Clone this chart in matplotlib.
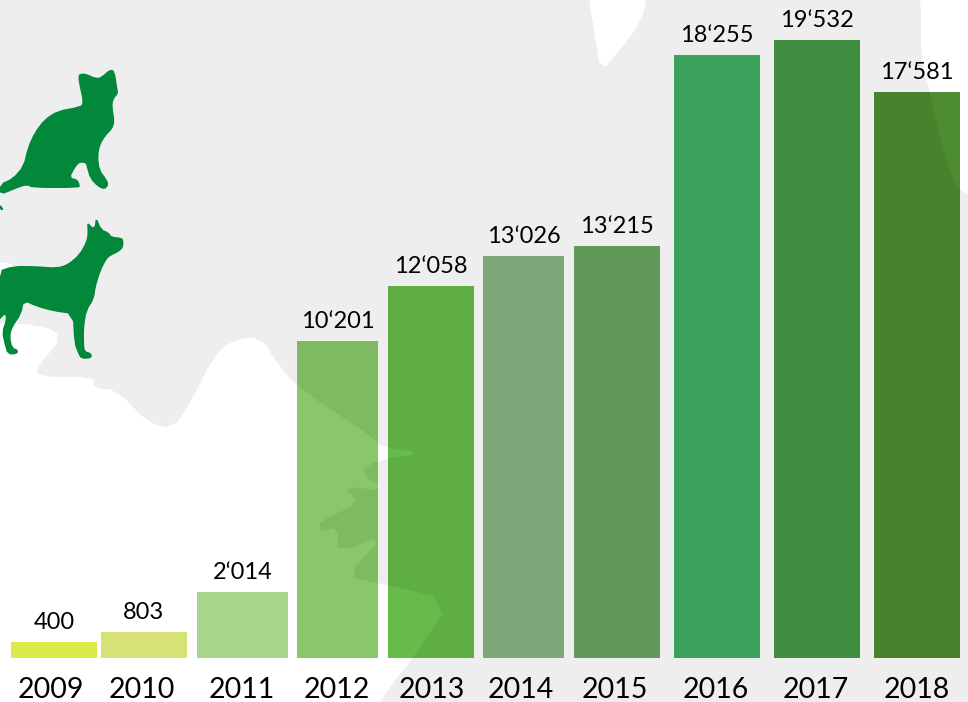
import numpy as np
import matplotlib
matplotlib.use("Agg")
import matplotlib.pyplot as plt
from matplotlib.patches import Polygon

plt.rcParams["font.family"] = ["Lato", "DejaVu Sans"]

years = [2009, 2010, 2011, 2012, 2013, 2014, 2015, 2016, 2017, 2018]
values = [400, 803, 2014, 10201, 12058, 13026, 13215, 18255, 19532, 17581]
bar_colors = ["#dde84a", "#d6e276", "#a6d58b", "#89c76a", "#66bb4a",
              "#89b583", "#67a461", "#40ae62", "#469947", "#4e8c31"]

# the source bars are hand drawn: pixel height of each bar, same order as values
bar_px = [16, 26, 66, 317, 372, 402, 412, 603, 618, 566]
bar_centers = [54, 144, 242.5, 337.5, 431, 523.5, 617, 717, 817, 917]
bar_widths = [86, 86, 91, 81, 86, 81, 86, 86, 86, 86]
year_x = [51, 142, 242, 337, 432, 521, 615, 716, 816, 917]

W, H = 968, 702
BASE = 658

# runs past the canvas edges so rounding leaves the edges alone
map_outline = [(14, -20), (587, -20), (589, 0), (595, 35), (601, 72), (620, 50), (641, 22),
               (646, 0), (648, -20), (915, -20), (921, -5), (921, 60), (930, 92), (938, 130),
               (948, 165), (958, 190), (975, 196), (990, 197), (990, 712), (978, 725),
               (366, 725), (380, 702), (395, 680),
               (413, 658), (452, 600), (378, 583), (345, 577), (387, 533), (337, 554),
               (338, 527), (321, 532), (319, 521), (361, 503), (341, 486), (387, 491),
               (359, 472), (378, 460), (425, 453), (378, 446), (377, 440), (297, 387),
               (277, 363), (260, 336), (230, 341), (213, 358), (190, 403), (173, 429),
               (147, 422), (117, 390), (92, 388), (95, 377), (38, 377), (37, 367),
               (63, 337), (43, 325), (-20, 322), (-20, 300), (18, 290), (18, 263),
               (-20, 262), (-20, 25)]

cat = [(238, 222), (255, 220), (290, 235), (305, 230), (330, 208), (344, 213), (352, 265),
       (355, 280), (340, 298), (337, 320), (344, 365), (337, 387), (317, 407), (300, 435),
       (294, 470), (299, 510), (320, 538), (326, 555), (314, 569), (293, 560), (270, 535),
       (260, 500), (258, 490), (240, 487), (227, 500), (209, 533), (232, 538), (240, 555),
       (237, 564), (100, 564), (80, 555), (50, 565), (0, 586), (0, 552), (38, 535),
       (70, 498), (83, 443), (103, 398), (133, 358), (173, 332), (238, 320), (250, 310),
       (237, 250), (235, 230)]
cat_tail = [(0, 612), (12, 630), (0, 630)]
dog = [(261, 665), (283, 688), (288, 650), (304, 688), (327, 698), (334, 710), (362, 713),
       (370, 718), (370, 742), (357, 755), (332, 767), (320, 777), (302, 812), (287, 860),
       (282, 897), (260, 932), (252, 980), (252, 1030), (254, 1053), (275, 1060), (275, 1075),
       (243, 1077), (233, 1057), (223, 1030), (218, 942), (160, 934), (110, 920), (72, 903),
       (64, 942), (37, 982), (30, 1010), (37, 1043), (55, 1050), (52, 1062), (23, 1064),
       (13, 1030), (6, 995), (18, 960), (16, 940), (-6, 965), (-6, 813), (40, 798), (100, 798),
       (170, 803), (203, 793), (238, 763), (260, 723), (263, 695)]


def round_corners(points, rounds=1):
    """Chaikin corner cutting, so traced outlines do not look faceted"""
    pts = np.array(points, dtype=float)
    for _ in range(rounds):
        nxt = np.roll(pts, -1, axis=0)
        pts = np.column_stack((0.75 * pts + 0.25 * nxt, 0.25 * pts + 0.75 * nxt)).reshape(-1, 2)
    return pts


# y axis calibrated on the bars as drawn
order = np.argsort(values)
knots_v = np.array(values)[order]
knots_p = np.array(bar_px)[order]
knots_v = np.concatenate(([0], knots_v, [21000]))
knots_p = np.concatenate(([0], knots_p, [BASE]))


def to_px(v):
    return np.interp(v, knots_v, knots_p)


def from_px(p):
    return np.interp(p, knots_p, knots_v)


fig = plt.figure(figsize=(W / 100, H / 100), dpi=100)

ax = fig.add_axes([0, (H - BASE) / H, 1, BASE / H])
ax.set_yscale("function", functions=(to_px, from_px))
ax.set_xlim(0, W)
ax.set_ylim(0, 21000)
ax.bar(bar_centers, values, width=bar_widths, color=bar_colors, linewidth=0)
for x, v in zip(bar_centers, values):
    ax.annotate(f"{v:,}".replace(",", "\u2018"), (x, v), xytext=(0, 9.4),
                textcoords="offset points", ha="center", va="baseline",
                fontsize=17, color="black")
ax.set_xticks(year_x, labels=[str(y) for y in years])
ax.tick_params(axis="x", length=0, pad=13.5, labelsize=20.5, labelcolor="black")
ax.set_yticks([])
ax.minorticks_off()
for side in ax.spines.values():
    side.set_visible(False)

# grey map lies over the bars and darkens them, hence translucent black
top = fig.add_axes([0, 0, 1, 1], zorder=5)
top.set_xlim(0, W)
top.set_ylim(H, 0)
top.axis("off")
top.patch.set_alpha(0)
top.add_patch(Polygon(round_corners(map_outline), closed=True, facecolor="black",
                      alpha=0.067, linewidth=0))
for shape in (cat, cat_tail, dog):
    pts = round_corners(shape) / 3
    top.add_patch(Polygon(pts, closed=True, facecolor="#02873b", linewidth=0))

fig.savefig("out.png", dpi=100)
